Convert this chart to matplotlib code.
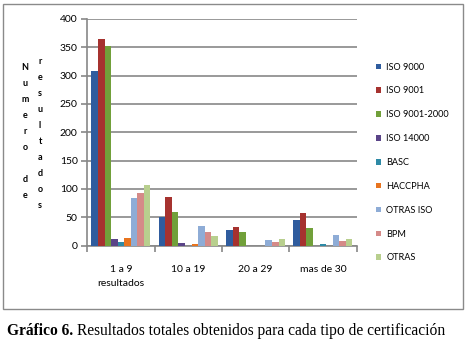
import matplotlib.pyplot as plt
import numpy as np
from matplotlib.patches import Rectangle

# data
groups = ["1 a 9\nresultados", "10 a 19", "20 a 29", "mas de 30"]
series = ["ISO 9000", "ISO 9001", "ISO 9001-2000", "ISO 14000", "BASC",
          "HACCPHA", "OTRAS ISO", "BPM", "OTRAS"]
iso9000 = [308, 50, 28, 45]
iso9001 = [365, 85, 32, 58]
iso9001_2000 = [353, 60, 24, 31]
iso14000 = [11, 5, 0, 0]
basc = [7, 0, 0, 3]
haccpha = [13, 2, 0, 0]
otras_iso = [84, 34, 10, 19]
bpm = [93, 24, 7, 8]
otras = [106, 17, 12, 11]
values = [iso9000, iso9001, iso9001_2000, iso14000, basc, haccpha, otras_iso, bpm, otras]
colors = ["#2F5C9E", "#A6322F", "#71A03A", "#5A4488", "#2E8AA6",
          "#E8741F", "#8EACD6", "#D58A88", "#B8CF8E"]

W, H = 465, 345
fig = plt.figure(figsize=(W / 100, H / 100), dpi=100)
font = "Lato"

# outer frame
fig.patches.append(Rectangle((2.5 / W, 1 - 309 / H), 460 / W, 305 / H,
                             transform=fig.transFigure, fill=False,
                             edgecolor="#8a8a8a", linewidth=1.0))

ax = fig.add_axes([87.3 / W, 1 - 245.5 / H, 269.2 / W, 226.5 / H])
x = np.arange(len(groups))
bw = 0.0975
for i, (name, vals) in enumerate(zip(series, values)):
    ax.bar(x + (i - 4) * bw, vals, width=bw, color=colors[i], label=name, zorder=3)

ax.set_xlim(-0.5, 3.5)
ax.set_ylim(0, 400)
ax.set_yticks(range(0, 401, 50))
ax.yaxis.grid(True, color="#878787", linewidth=1.2, zorder=0)
for s in ["top", "right"]:
    ax.spines[s].set_visible(False)
for s in ["left", "bottom"]:
    ax.spines[s].set_color("#878787")
    ax.spines[s].set_linewidth(1.2)
ax.tick_params(axis="y", length=4, color="#878787", width=1.2, labelsize=7.5, pad=3)
ax.set_xticks(x)
ax.set_xticklabels(groups, fontsize=7.5, linespacing=1.75, fontfamily=font)
ax.set_xticks(np.arange(-0.5, 4, 1), minor=True)
ax.tick_params(axis="x", which="major", length=0, pad=14)
ax.tick_params(axis="x", which="minor", length=4, color="#878787", width=1.2)
for lab in ax.get_yticklabels():
    lab.set_fontfamily(font)

# stacked vertical y label
col1 = list("Numero") + [""] + list("de")
col2 = list("resultados")
for k, ch in enumerate(col1):
    fig.text(25 / W, 1 - (67 + k * 16.1) / H, ch, ha="center", va="center",
             fontsize=6.5, fontweight="bold", fontfamily=font)
for k, ch in enumerate(col2):
    fig.text(40 / W, 1 - (61 + k * 16.1) / H, ch, ha="center", va="center",
             fontsize=6.5, fontweight="bold", fontfamily=font)

leg = fig.legend(loc="upper left", bbox_to_anchor=(371 / W, 1 - 58 / H),
                 frameon=False, fontsize=6.6, handlelength=0.55, handleheight=0.55,
                 handletextpad=0.6, labelspacing=1.62, borderpad=0)
for t in leg.get_texts():
    t.set_fontfamily(font)

# caption
fig.text(7 / W, 1 - 331 / H, "Gráfico 6.", fontsize=11.2, fontweight="bold",
         fontfamily="Liberation Serif", va="center", ha="left")
fig.text(77 / W, 1 - 331 / H, "Resultados totales obtenidos para cada tipo de certificación",
         fontsize=11.2, fontfamily="Liberation Serif", va="center", ha="left")

fig.savefig("out.png", dpi=100)
